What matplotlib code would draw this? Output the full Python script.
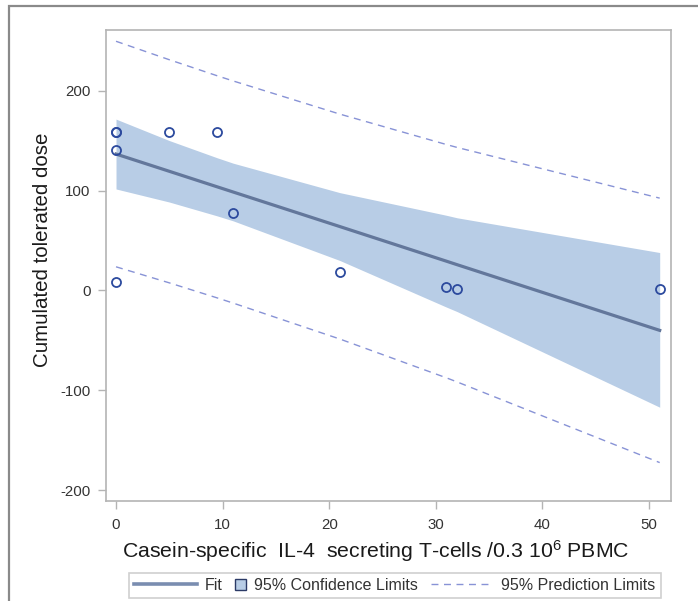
import matplotlib
matplotlib.use("Agg")
import matplotlib.pyplot as plt
from matplotlib.patches import Rectangle
from matplotlib.lines import Line2D
from matplotlib.legend_handler import HandlerPatch

plt.rcParams['font.family'] = ['Liberation Sans', 'DejaVu Sans']
plt.rcParams['mathtext.fontset'] = 'custom'
plt.rcParams['mathtext.rm'] = 'Liberation Sans'
plt.rcParams['mathtext.it'] = 'Liberation Sans:italic'
plt.rcParams['axes.unicode_minus'] = False

# observed data
obs_x = [0, 0, 0, 0, 5, 9.5, 11, 21, 31, 32, 51]
obs_y = [159, 159, 141, 8, 159, 159, 78, 18, 3, 1, 1]

# fit, confidence and prediction limits evaluated at the sorted x values
grid_x = [0, 5, 9.5, 11, 21, 31, 32, 51]
fit_y = [136.7, 119.4, 103.8, 98.6, 64.0, 29.3, 25.8, -40.0]
ci_upper = [171.7, 150.2, 132.9, 127.5, 98.0, 75.3, 72.8, 38.0]
ci_lower = [101.7, 88.6, 74.7, 69.7, 30.0, -16.7, -21.2, -117.0]
pi_upper = [249.7, 231.2, 215.1, 209.9, 176.7, 146.2, 143.3, 92.5]
pi_lower = [23.7, 7.6, -7.5, -12.7, -48.7, -87.6, -91.7, -172.5]

x_ticks = [0, 10, 20, 30, 40, 50]
y_ticks = [-200, -100, 0, 100, 200]

band_c = '#b8cde6'
fit_c = '#63779b'
pt_c = '#2c4a9e'
pi_c = '#8893d6'
spine_c = '#b4b4b4'
text_c = '#333333'

W, H = 698, 601
fig = plt.figure(figsize=(W / 100, H / 100), dpi=100)
fig.patch.set_facecolor('white')

# outer frame (top and left edges visible)
fig.add_artist(Rectangle((9 / W, -0.05), 1.0, (H - 6) / H + 0.05,
                         transform=fig.transFigure, fill=False,
                         edgecolor='#8a8a8a', linewidth=1.6, clip_on=False))

ax = fig.add_axes([106 / W, 100 / H, 565 / W, 471 / H])

ax.fill_between(grid_x, ci_lower, ci_upper, color=band_c, linewidth=0,
                label='95% Confidence Limits', zorder=1)
ax.plot(grid_x, fit_y, color=fit_c, linewidth=2.3, label='Fit', zorder=3)
ax.plot(grid_x, pi_upper, color=pi_c, linewidth=1.0, linestyle=(0, (5, 4)),
        label='95% Prediction Limits', zorder=2)
ax.plot(grid_x, pi_lower, color=pi_c, linewidth=1.0, linestyle=(0, (5, 4)), zorder=2)
ax.plot(obs_x, obs_y, linestyle='none', marker='o', markersize=6.5,
        markerfacecolor='none', markeredgecolor=pt_c, markeredgewidth=1.3, zorder=4)

ax.set_xlim(-0.94, 52.06)
ax.set_ylim(-211, 261)
ax.set_xticks(x_ticks)
ax.set_yticks(y_ticks)

for s in ax.spines.values():
    s.set_color(spine_c)
    s.set_linewidth(1.2)
ax.tick_params(axis='both', direction='out', length=6, width=1, color=spine_c,
               labelcolor=text_c, labelsize=10.8)
ax.tick_params(axis='x', pad=6)
ax.tick_params(axis='y', pad=5)

ax.set_xlabel(r'Casein-specific  IL-4  secreting T-cells /0.3 $\mathregular{10^6}$ PBMC',
              fontsize=15.3, color='#1a1a1a')
ax.xaxis.label.set_va('baseline')
ax.xaxis.set_label_coords((375.5 - 106) / 565, (501 - 558) / 471)

ax.set_ylabel('Cumulated tolerated dose', fontsize=14.8, color='#1a1a1a')
ax.yaxis.label.set_va('baseline')
ax.yaxis.set_label_coords((48.5 - 106) / 565, (501 - 250) / 471)


class SquareHandler(HandlerPatch):
    def legend_artist(self, legend, orig_handle, fontsize, handlebox):
        s = 11 * 0.72
        handlebox.width = s
        r = Rectangle((-handlebox.xdescent,
                       -handlebox.ydescent + (handlebox.height - s) / 2), s, s,
                      facecolor=band_c, edgecolor='#2b3a66', linewidth=1.0,
                      transform=handlebox.get_transform())
        handlebox.add_artist(r)
        return r


h_fit = Line2D([], [], color='#7a8db0', linewidth=2.6)
h_ci = Rectangle((0, 0), 1, 1, facecolor=band_c, edgecolor='#2b3a66')
h_pi = Line2D([], [], color=pi_c, linewidth=1.0, linestyle=(0, (5, 4)))

leg = fig.legend([h_fit, h_ci, h_pi],
                 ['Fit', '95% Confidence Limits', '95% Prediction Limits'],
                 handler_map={Rectangle: SquareHandler()},
                 loc='lower center', bbox_to_anchor=(395 / W, 3 / H),
                 ncol=3, fontsize=11.5, frameon=True, fancybox=False,
                 handlelength=3.9, handletextpad=0.5, columnspacing=0.8,
                 borderpad=0.32, borderaxespad=0)
leg.get_frame().set_edgecolor('#c4c4c4')
leg.get_frame().set_linewidth(1.2)
for t in leg.get_texts():
    t.set_color(text_c)

fig.savefig('out.png', dpi=100)
